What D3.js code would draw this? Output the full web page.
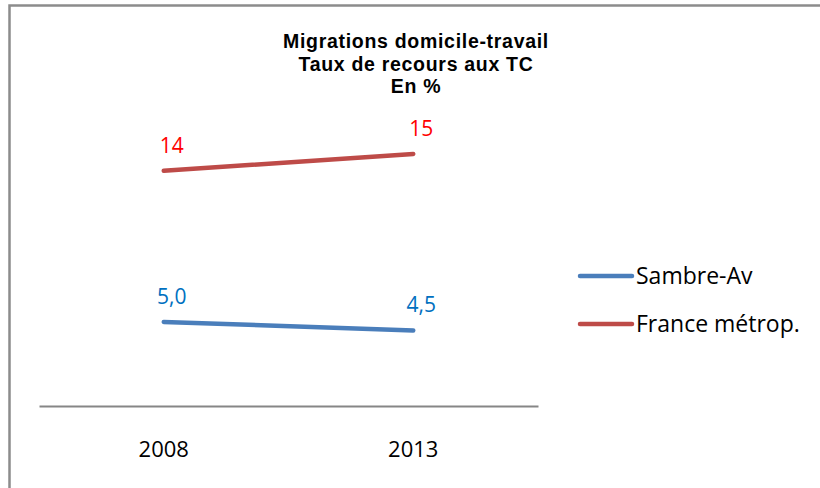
<!DOCTYPE html>
<html>
<head>
<meta charset="utf-8">
<script src="https://cdn.jsdelivr.net/npm/d3@7"></script>
<style>
  body { margin: 0; background: #fff; }
  .chart text { font-family: "Open Sans", sans-serif; }
</style>
</head>
<body>
<svg class="chart" width="820" height="488"></svg>
<script>
var years = ["2008", "2013"]
var seriesNames = ["Sambre-Av", "France métrop."]
var sambre = [5.0, 4.5]
var france = [14, 15]
var sambreLabels = ["5,0", "4,5"]
var franceLabels = ["14", "15"]
var titleLines = ["Migrations domicile-travail", "Taux de recours aux TC", "En %"]

var lineColors = ["#4a7ebb", "#be4b48"]
var labelColors = ["#0070c0", "#ff0000"]

var series = [
    {name: seriesNames[0], values: sambre, labels: sambreLabels},
    {name: seriesNames[1], values: france, labels: franceLabels}
]

var svg = d3.select(".chart")

// frame (runs off the right and bottom edges)
svg.append("path")
    .attr("d", "M9.5,490 V5.5 H822")
    .attr("fill", "none")
    .attr("stroke", "#8c8c8c")
    .attr("stroke-width", 2.5)

var x = d3.scaleBand()
    .domain(years)
    .range([39, 538])

var y = d3.scaleLinear()
    .domain([0, 20])
    .range([406, 70])

// title
svg.append("g")
    .selectAll("text")
    .data(titleLines)
    .enter()
    .append("text")
    .attr("x", 416)
    .attr("y", function(d, i) { return 48 + i * 22.5 })
    .attr("text-anchor", "middle")
    .style("font-family", "'Liberation Sans', Arial, sans-serif")
    .attr("font-size", 19.5)
    .attr("letter-spacing", 0.7)
    .attr("font-weight", "bold")
    .attr("fill", "#000")
    .text(function(d) { return d })

// category axis
var xAxis = svg.append("g")
    .attr("transform", "translate(0,406)")
    .call(d3.axisBottom(x).tickSize(0).tickPadding(35))

xAxis.select(".domain")
    .attr("stroke", "#868686")
    .attr("stroke-width", 2)

xAxis.selectAll("text")
    .attr("font-size", 22)
    .attr("font-family", "Open Sans, sans-serif")
    .attr("fill", "#000")

var line = d3.line()
    .x(function(d, i) { return x(years[i]) + x.bandwidth() / 2 })
    .y(function(d) { return y(d) })

svg.selectAll(".serie")
    .data(series)
    .enter()
    .append("path")
    .attr("class", "serie")
    .attr("d", function(d) { return line(d.values) })
    .attr("fill", "none")
    .attr("stroke", function(d, i) { return lineColors[i] })
    .attr("stroke-width", 4.5)
    .attr("stroke-linecap", "round")

// data labels
series.forEach(function(s, k) {
    svg.append("g")
        .selectAll("text")
        .data(s.values)
        .enter()
        .append("text")
        .attr("x", function(d, i) { return x(years[i]) + x.bandwidth() / 2 + 8 })
        .attr("y", function(d) { return y(d) - 18 })
        .attr("text-anchor", "middle")
        .attr("font-size", 21)
        .attr("fill", labelColors[k])
        .text(function(d, i) { return s.labels[i] })
})

// legend
var legend = svg.append("g")
    .selectAll("g")
    .data(series)
    .enter()
    .append("g")
    .attr("transform", function(d, i) { return "translate(578," + (276 + i * 48) + ")" })

legend.append("line")
    .attr("x1", 2).attr("x2", 54)
    .attr("stroke", function(d, i) { return lineColors[i] })
    .attr("stroke-width", 4.5)
    .attr("stroke-linecap", "round")

legend.append("text")
    .attr("x", 58)
    .attr("y", 8)
    .attr("font-size", 23)
    .attr("fill", "#000")
    .text(function(d) { return d.name })
</script>
</body>
</html>
